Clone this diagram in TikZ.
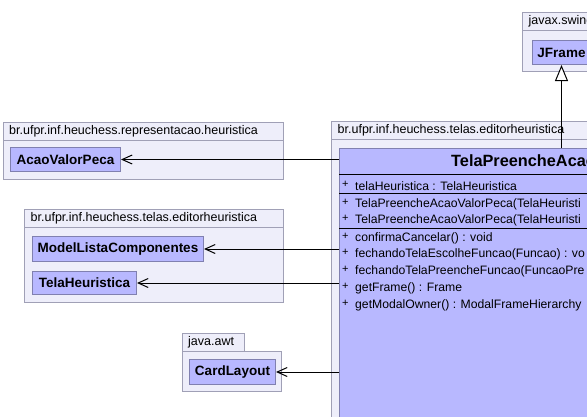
\documentclass[tikz,border=0pt]{standalone}
\usepackage{fontspec}
\setmainfont{Liberation Sans}
\usetikzlibrary{arrows.meta}
\definecolor{pkgfill}{RGB}{238,238,250}
\definecolor{pkgdraw}{RGB}{160,160,182}
\definecolor{clsfill}{RGB}{184,184,255}
\definecolor{clsdraw}{RGB}{128,128,176}
\begin{document}
\begin{tikzpicture}[x=1pt,y=-1pt,
  pkg/.style={draw=pkgdraw, fill=pkgfill, line width=1pt},
  pkglabel/.style={anchor=west, inner sep=0pt, font=\fontsize{12.5}{14}\selectfont},
  cls/.style={draw=clsdraw, fill=clsfill, line width=1pt, inner sep=0pt, anchor=north west, font=\bfseries\fontsize{13.5}{15}\selectfont},
  member/.style={anchor=west, inner sep=0pt, font=\fontsize{12.2}{14}\selectfont},
  plus/.style={anchor=west, inner sep=0pt, font=\fontsize{11}{12}\selectfont},
  sep/.style={line width=1pt, black},
  dep/.style={-{Straight Barb[length=10pt,width=9pt]}, line width=1pt},
  gen/.style={-{Triangle[length=16pt,width=13pt,fill=white]}, line width=1pt}]
\useasboundingbox (0,0) rectangle (587,416);
\fill[white] (0,0) rectangle (587,416);
\clip (0,0) rectangle (587,416);

% package javax.swing
\draw[pkg] (522,12) rectangle (600,30);
\draw[pkg] (522,30) rectangle (600,71);
\node[pkglabel] (lblE) at (528.5,21) {javax.swing};
\node[cls, minimum width=58, minimum height=24] (jf) at (532,40) {JFrame};

% package representacao.heuristica
\draw[pkg] (3,122) rectangle (283,140);
\draw[pkg] (3,140) rectangle (283,179);
\node[pkglabel] (lblA) at (9,131) {br.ufpr.inf.heuchess.representacao.heuristica};
\node[cls, minimum width=110, minimum height=24] (avp) at (10,147) {AcaoValorPeca};

% package telas.editorheuristica (left)
\draw[pkg] (24,209) rectangle (283,227);
\draw[pkg] (24,227) rectangle (283,302);
\node[pkglabel] (lblB) at (30.5,218) {br.ufpr.inf.heuchess.telas.editorheuristica};
\node[cls, minimum width=171, minimum height=25] (mlc) at (32,236) {ModelListaComponentes};
\node[cls, minimum width=104, minimum height=23] (th) at (32,271) {TelaHeuristica};

% package java.awt
\draw[pkg] (182,333) rectangle (244,351);
\draw[pkg] (182,351) rectangle (281,391);
\node[pkglabel] (lblC) at (188,342) {java.awt};
\node[cls, minimum width=86, minimum height=25] (cl) at (189,359) {CardLayout};

% package telas.editorheuristica (right)
\draw[pkg] (331,121) rectangle (820,139);
\draw[pkg] (331,139) rectangle (820,460);
\node[pkglabel] (lblD) at (337.5,130) {br.ufpr.inf.heuchess.telas.editorheuristica};

% main class
\node[cls, minimum width=446, minimum height=300] (main) at (339,148) {};
\node[anchor=west, inner sep=0pt, font=\bfseries\fontsize{16.3}{18}\selectfont] (mname) at (451,161) {TelaPreencheAcao};
\draw[sep] (339,174) -- (785,174);
\draw[sep] (339,193) -- (785,193);
\draw[sep] (339,228) -- (785,228);

\node[plus] (p1) at (342,184) {+};
\node[member] (m1) at (355,186) {telaHeuristica : TelaHeuristica};
\node[plus] (p2) at (342,202) {+};
\node[member] (m2) at (355,204) {TelaPreencheAcaoValorPeca(TelaHeuristi};
\node[plus] (p3) at (342,218) {+};
\node[member] (m3) at (355,220) {TelaPreencheAcaoValorPeca(TelaHeuristi};
\node[plus] (p4) at (342,236) {+};
\node[member] (m4) at (355,238) {confirmaCancelar() : void};
\node[plus] (p5) at (342,252) {+};
\node[member] (m5) at (355,254) {fechandoTelaEscolheFuncao(Funcao) : vo};
\node[plus] (p6) at (342,269) {+};
\node[member] (m6) at (355,271) {fechandoTelaPreencheFuncao(FuncaoPre};
\node[plus] (p7) at (342,286) {+};
\node[member] (m7) at (355,288) {getFrame() : Frame};
\node[plus] (p8) at (342,303) {+};
\node[member] (m8) at (355,305) {getModalOwner() : ModalFrameHierarchy};

% connectors
\draw[gen] (main.north -| jf.south) -- (jf.south);
\draw[dep] (avp.east -| main.west) -- (avp.east);
\draw[dep] (mlc.east -| main.west) -- (mlc.east);
\draw[dep] (th.east -| main.west) -- (th.east);
\draw[dep] (cl.east -| main.west) -- (cl.east);
\end{tikzpicture}
\end{document}
